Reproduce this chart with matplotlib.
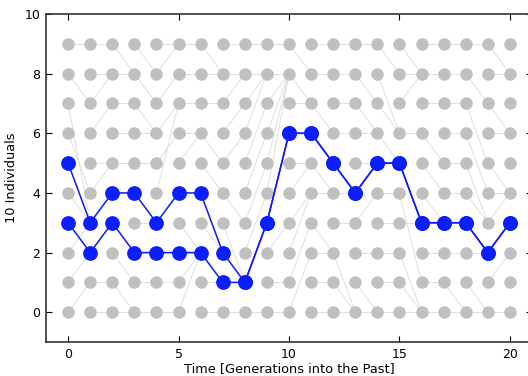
import matplotlib
matplotlib.use("Agg")
import matplotlib.pyplot as plt

# Parent (at generation t+1) of each individual 0..9 at generation t
parents = [
    [1, 2, 3, 2, 3, 3, 4, 3, 7, 9],   # t0 -> t1
    [0, 1, 3, 4, 5, 5, 7, 8, 8, 9],   # t1 -> t2
    [0, 0, 1, 2, 4, 5, 6, 7, 8, 8],   # t2 -> t3
    [0, 1, 2, 3, 3, 5, 6, 6, 7, 8],   # t3 -> t4
    [0, 1, 2, 4, 7, 6, 7, 8, 9, 9],   # t4 -> t5
    [2, 2, 2, 2, 4, 6, 6, 7, 8, 9],   # t5 -> t6
    [0, 1, 1, 2, 2, 4, 5, 7, 8, 8],   # t6 -> t7
    [0, 1, 1, 1, 3, 6, 7, 8, 8, 9],   # t7 -> t8
    [0, 3, 4, 5, 6, 7, 8, 8, 8, 9],   # t8 -> t9
    [0, 1, 3, 6, 8, 8, 8, 8, 8, 9],   # t9 -> t10
    [2, 3, 4, 4, 5, 5, 6, 7, 7, 8],   # t10 -> t11
    [0, 1, 2, 2, 4, 4, 5, 6, 8, 9],   # t11 -> t12
    [0, 0, 0, 3, 4, 4, 6, 7, 8, 9],   # t12 -> t13
    [0, 0, 2, 4, 5, 5, 6, 6, 7, 9],   # t13 -> t14
    [0, 1, 2, 3, 4, 5, 5, 6, 6, 8],   # t14 -> t15
    [0, 0, 0, 3, 1, 3, 6, 8, 8, 8],   # t15 -> t16
    [0, 1, 2, 3, 3, 4, 5, 7, 8, 9],   # t16 -> t17
    [0, 0, 2, 3, 4, 5, 6, 7, 8, 9],   # t17 -> t18
    [0, 0, 2, 2, 3, 3, 4, 5, 7, 9],   # t18 -> t19
    [0, 2, 3, 4, 4, 4, 6, 6, 8, 8],   # t19 -> t20
]
n_individuals = 10
n_generations = 21
sample_starts = [5, 3]
x_ticks = [0, 5, 10, 15, 20]
y_ticks = [0, 2, 4, 6, 8, 10]
x_label = "Time [Generations into the Past]"
y_label = "10 Individuals"

W, H = 528, 376
fig = plt.figure(figsize=(W / 100, H / 100), dpi=100)
ax = fig.add_axes([46 / W, (H - 342) / H, (532 - 46) / W, (342 - 14) / H])

grey_line = "#dedede"
grey_dot = "#c0c0c0"
blue = "#0a1eff"

# grey genealogy edges
for t, par in enumerate(parents):
    for i, p in enumerate(par):
        ax.plot([t, t + 1], [i, p], color=grey_line, lw=0.7, zorder=1)

# grey dots
for t in range(n_generations):
    ax.plot([t] * n_individuals, list(range(n_individuals)), "o",
            color=grey_dot, mec=grey_dot, ms=8.0, zorder=2)

# blue lineages traced through the parents
for start in sample_starts:
    xs, ys = [0], [start]
    cur = start
    for t, par in enumerate(parents):
        cur = par[cur]
        xs.append(t + 1)
        ys.append(cur)
    ax.plot(xs, ys, "-", color=blue, lw=1.1, zorder=3)
    ax.plot(xs, ys, "o", color=blue, mec=blue, ms=9.6, zorder=4)

ax.set_xlim(-1, 21)
ax.set_ylim(-1, 10)
ax.set_xticks(x_ticks)
ax.set_yticks(y_ticks)
ax.tick_params(direction="in", top=True, right=True, length=4, width=0.8,
               labelsize=9, pad=4)
for s in ax.spines.values():
    s.set_linewidth(1.2)
    s.set_color("#333333")
ax.set_xlabel(x_label, fontsize=9.3, labelpad=1)
ax.set_ylabel(y_label, fontsize=9.3, labelpad=5)

fig.savefig("out.png", dpi=100)
